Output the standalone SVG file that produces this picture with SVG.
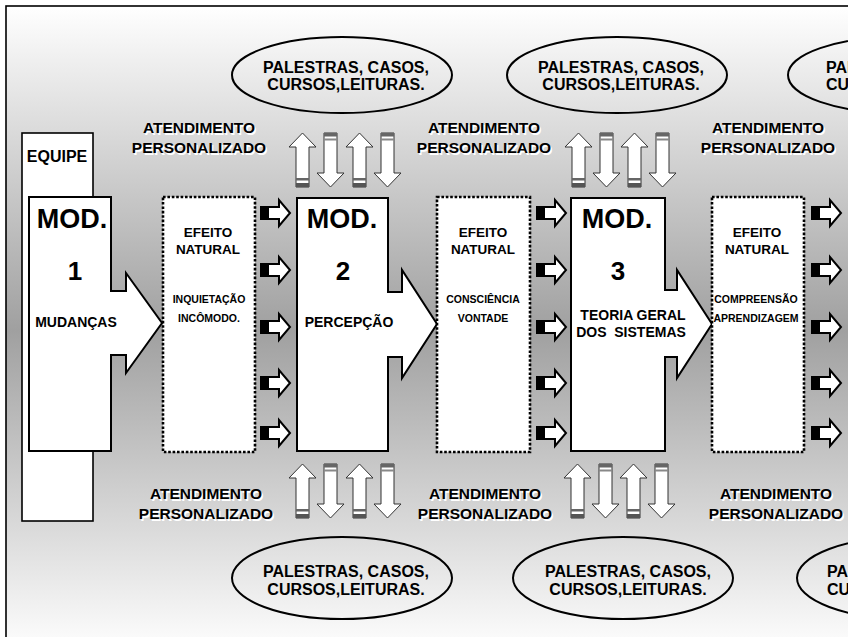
<svg xmlns="http://www.w3.org/2000/svg" xmlns:xlink="http://www.w3.org/1999/xlink" width="848" height="637" viewBox="0 0 848 637">
<style>
.t{font-family:"Liberation Sans",Arial,sans-serif;font-weight:bold;fill:#000;text-anchor:middle}
.s{text-anchor:start}
.mod{font-size:27px}
.num{font-size:26px}
.lbl{font-size:14px}
.eq{font-size:16px}
.ef{font-size:13.5px}
.sm{font-size:10.5px}
.el{font-size:16px}
.at{font-size:15.5px}
.sh{fill:#fff}
.box{fill:#fff;stroke:#000;stroke-width:2;stroke-linejoin:miter}
.dot{fill:#fff;stroke:#000;stroke-width:2.6;stroke-dasharray:2.6 1.8}
.ell{fill:none;stroke:#000;stroke-width:2}
</style>
<defs>
<linearGradient id="bg" gradientUnits="userSpaceOnUse" x1="0" y1="6" x2="0" y2="654">
<stop offset="0" stop-color="#ffffff"/>
<stop offset="0.5" stop-color="#a0a0a0"/>
<stop offset="1" stop-color="#ffffff"/>
</linearGradient>
<g id="ra">
<rect x="0" y="-7" width="8" height="14" fill="#000"/>
<path d="M8,-6 H19 V-13 L30,0 L19,13 V6 H8 Z" fill="#fff" stroke="#000" stroke-width="2"/>
</g>
<g id="ua">
<path d="M7,54 V14 H0 L13.5,0 L27,14 H20 V54 Z" fill="#fff" stroke="#333" stroke-width="1"/>
<rect x="7" y="45" width="13" height="2.5" fill="#666"/>
<rect x="7" y="50" width="13" height="4" fill="#555"/>
</g>
<g id="da">
<path d="M7,0 V40 H0 L13.5,54 L27,40 H20 V0 Z" fill="#fff" stroke="#333" stroke-width="1"/>
<rect x="7" y="0" width="13" height="3.5" fill="#666"/>
<rect x="7" y="5.5" width="13" height="2" fill="#888"/>
</g>
</defs>

<rect id="frame" x="6" y="6" width="920" height="720" fill="url(#bg)" stroke="#000" stroke-width="1.6"/>

<g id="equipe">
<rect x="22" y="133" width="71" height="388" fill="#fff" stroke="#000" stroke-width="1.6"/>
<text class="t eq" x="57" y="162">EQUIPE</text>
</g>

<g id="mod1">
<path class="box" d="M29,197 H111 V291 H126 V273 L162,323 L126,373 V355 H111 V451 H29 Z"/>
<text class="t mod" x="72" y="228">MOD.</text>
<text class="t num" x="75" y="280">1</text>
<text class="t lbl" x="76" y="327">MUDANÇAS</text>
</g>

<g id="efeito1">
<rect class="dot" x="163" y="197" width="92" height="255"/>
<text class="t ef" x="208" y="237">EFEITO</text>
<text class="t ef" x="208" y="254">NATURAL</text>
<text class="t sm" x="209" y="303">INQUIETAÇÃO</text>
<text class="t sm" x="209" y="322">INCÔMODO.</text>
</g>

<g id="mod2">
<path class="box" d="M297,198 H388 V292 H402 V270 L437,324 L402,378 V357 H388 V451 H297 Z"/>
<text class="t mod" x="342" y="228">MOD.</text>
<text class="t num" x="343" y="280">2</text>
<text class="t lbl" x="349" y="327">PERCEPÇÃO</text>
</g>

<g id="efeito2">
<rect class="dot" x="437" y="197" width="93" height="255"/>
<text class="t ef" x="483" y="237">EFEITO</text>
<text class="t ef" x="483" y="254">NATURAL</text>
<text class="t sm" x="483" y="303">CONSCIÊNCIA</text>
<text class="t sm" x="483" y="322">VONTADE</text>
</g>

<g id="mod3">
<path class="box" d="M571,198 H665 V290 H677 V270 L712,324 L677,378 V357 H665 V451 H571 Z"/>
<text class="t mod" x="617" y="228">MOD.</text>
<text class="t num" x="618" y="280">3</text>
<text class="t lbl" x="633" y="320">TEORIA GERAL</text>
<text class="t lbl" x="631" y="337" xml:space="preserve">DOS  SISTEMAS</text>
</g>

<g id="efeito3">
<rect class="dot" x="712" y="197" width="92" height="255"/>
<text class="t ef" x="757" y="237">EFEITO</text>
<text class="t ef" x="757" y="254">NATURAL</text>
<text class="t sm" x="756" y="303">COMPREENSÃO</text>
<text class="t sm" x="756" y="322">APRENDIZAGEM</text>
</g>

<g id="palestras-top1">
<ellipse class="ell" cx="342" cy="75" rx="110" ry="38"/>
<text class="t el" x="346" y="73">PALESTRAS, CASOS,</text>
<text class="t el" x="346" y="90">CURSOS,LEITURAS.</text>
</g>
<g id="palestras-top2">
<ellipse class="ell" cx="617" cy="75" rx="110" ry="38"/>
<text class="t el" x="621" y="73">PALESTRAS, CASOS,</text>
<text class="t el" x="621" y="90">CURSOS,LEITURAS.</text>
</g>
<g id="palestras-top3">
<ellipse class="ell" cx="898" cy="75" rx="110" ry="38"/>
<text class="t el s" x="826" y="73">PALESTRAS, CASOS,</text>
<text class="t el s" x="826" y="90">CURSOS,LEITURAS.</text>
</g>
<g id="palestras-bot1">
<ellipse class="ell" cx="342" cy="578" rx="110" ry="41"/>
<text class="t el" x="346" y="577">PALESTRAS, CASOS,</text>
<text class="t el" x="346" y="595">CURSOS,LEITURAS.</text>
</g>
<g id="palestras-bot2">
<ellipse class="ell" cx="623" cy="578" rx="110" ry="41"/>
<text class="t el" x="628" y="577">PALESTRAS, CASOS,</text>
<text class="t el" x="628" y="595">CURSOS,LEITURAS.</text>
</g>
<g id="palestras-bot3">
<ellipse class="ell" cx="907" cy="578" rx="110" ry="41"/>
<text class="t el s" x="827" y="577">PALESTRAS, CASOS,</text>
<text class="t el s" x="827" y="595">CURSOS,LEITURAS.</text>
</g>

<g id="atendimento-top1">
<text class="t at sh" x="200.5" y="134.5">ATENDIMENTO</text>
<text class="t at sh" x="200.5" y="154.5">PERSONALIZADO</text>
<text class="t at" x="199" y="133">ATENDIMENTO</text>
<text class="t at" x="199" y="153">PERSONALIZADO</text>
</g>
<g id="atendimento-top2">
<text class="t at sh" x="485.5" y="134.5">ATENDIMENTO</text>
<text class="t at sh" x="485.5" y="154.5">PERSONALIZADO</text>
<text class="t at" x="484" y="133">ATENDIMENTO</text>
<text class="t at" x="484" y="153">PERSONALIZADO</text>
</g>
<g id="atendimento-top3">
<text class="t at sh" x="769.5" y="134.5">ATENDIMENTO</text>
<text class="t at sh" x="769.5" y="154.5">PERSONALIZADO</text>
<text class="t at" x="768" y="133">ATENDIMENTO</text>
<text class="t at" x="768" y="153">PERSONALIZADO</text>
</g>
<g id="atendimento-bot1">
<text class="t at sh" x="207.5" y="500.5">ATENDIMENTO</text>
<text class="t at sh" x="207.5" y="520.5">PERSONALIZADO</text>
<text class="t at" x="206" y="499">ATENDIMENTO</text>
<text class="t at" x="206" y="519">PERSONALIZADO</text>
</g>
<g id="atendimento-bot2">
<text class="t at sh" x="486.5" y="500.5">ATENDIMENTO</text>
<text class="t at sh" x="486.5" y="520.5">PERSONALIZADO</text>
<text class="t at" x="485" y="499">ATENDIMENTO</text>
<text class="t at" x="485" y="519">PERSONALIZADO</text>
</g>
<g id="atendimento-bot3">
<text class="t at sh" x="777.5" y="500.5">ATENDIMENTO</text>
<text class="t at sh" x="777.5" y="520.5">PERSONALIZADO</text>
<text class="t at" x="776" y="499">ATENDIMENTO</text>
<text class="t at" x="776" y="519">PERSONALIZADO</text>
</g>

<g id="connectors">
<use xlink:href="#ra" x="260" y="213"/>
<use xlink:href="#ra" x="260" y="270"/>
<use xlink:href="#ra" x="260" y="327"/>
<use xlink:href="#ra" x="260" y="383"/>
<use xlink:href="#ra" x="260" y="433"/>
<use xlink:href="#ra" x="536" y="213"/>
<use xlink:href="#ra" x="536" y="270"/>
<use xlink:href="#ra" x="536" y="327"/>
<use xlink:href="#ra" x="536" y="383"/>
<use xlink:href="#ra" x="536" y="433"/>
<use xlink:href="#ra" x="811" y="213"/>
<use xlink:href="#ra" x="811" y="270"/>
<use xlink:href="#ra" x="811" y="327"/>
<use xlink:href="#ra" x="811" y="383"/>
<use xlink:href="#ra" x="811" y="433"/>

<use xlink:href="#ua" x="289" y="133"/>
<use xlink:href="#da" x="317" y="133"/>
<use xlink:href="#ua" x="346" y="133"/>
<use xlink:href="#da" x="374" y="133"/>
<use xlink:href="#ua" x="565" y="133"/>
<use xlink:href="#da" x="593" y="133"/>
<use xlink:href="#ua" x="621" y="133"/>
<use xlink:href="#da" x="649" y="133"/>

<use xlink:href="#ua" x="289" y="464"/>
<use xlink:href="#da" x="317" y="464"/>
<use xlink:href="#ua" x="346" y="464"/>
<use xlink:href="#da" x="374" y="464"/>
<use xlink:href="#ua" x="564" y="464"/>
<use xlink:href="#da" x="592" y="464"/>
<use xlink:href="#ua" x="620" y="464"/>
<use xlink:href="#da" x="648" y="464"/>
</g>
</svg>
